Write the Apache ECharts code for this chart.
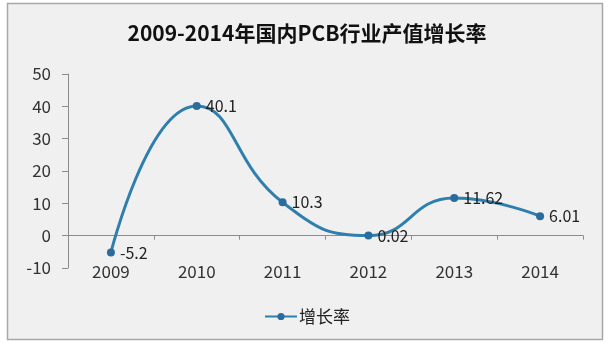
<!DOCTYPE html>
<html>
<head>
<meta charset="utf-8">
<script src="https://cdn.jsdelivr.net/npm/echarts@6/dist/echarts.min.js"></script>
<style>
html,body{margin:0;padding:0;background:#fff;}
#chart{width:614px;height:356px;}
</style>
</head>
<body>
<div id="chart"></div>
<script>
const titleText = '2009-2014年国内PCB行业产值增长率';
const seriesName = '增长率';
const categories = ['2009', '2010', '2011', '2012', '2013', '2014'];
const growthValues = [-5.2, 40.1, 10.3, 0.02, 11.62, 6.01];
const yTicks = { min: -10, max: 50, interval: 10 };

const FONT = '"Noto Sans CJK SC", "DejaVu Sans", sans-serif';
const chart = echarts.init(document.getElementById('chart'), null, { renderer: 'canvas' });
chart.setOption({
  backgroundColor: '#ffffff',
  animation: false,
  graphic: [{
    type: 'rect',
    z: -10,
    shape: { x: 7.5, y: 3.5, width: 595, height: 336 },
    style: { fill: '#f0f0f0', stroke: '#a8a8a8', lineWidth: 1.5 }
  }],
  title: {
    text: titleText,
    left: 'center',
    top: 18,
    textStyle: { fontFamily: FONT, fontSize: 21, fontWeight: 'bold', color: '#111' }
  },
  legend: {
    data: [seriesName],
    top: 303,
    left: 'center',
    itemWidth: 32,
    itemHeight: 9,
    itemGap: 4,
    textStyle: { fontFamily: FONT, fontSize: 17, color: '#222', padding: [0, 0, 0, -3] }
  },
  grid: { left: 68, right: 31, top: 74, bottom: 88, containLabel: false },
  xAxis: [{
    type: 'category',
    data: categories,
    position: 'top',
    boundaryGap: true,
    axisLine: { show: true, onZero: true, lineStyle: { color: '#8c8c8c', width: 1 } },
    axisTick: { show: true, inside: true, length: 4, lineStyle: { color: '#8c8c8c' } },
    axisLabel: { show: false },
    splitLine: { show: false }
  }, {
    type: 'category',
    data: categories,
    position: 'bottom',
    boundaryGap: true,
    axisLine: { show: false, onZero: false },
    axisTick: { show: false },
    axisLabel: { fontFamily: FONT, fontSize: 17, color: '#333', margin: -5 },
    splitLine: { show: false }
  }],
  yAxis: {
    type: 'value',
    min: yTicks.min,
    max: yTicks.max,
    interval: yTicks.interval,
    axisLine: { show: true, lineStyle: { color: '#8c8c8c', width: 1 } },
    axisTick: { show: true, length: 6, lineStyle: { color: '#8c8c8c' } },
    axisLabel: { fontFamily: FONT, fontSize: 17, color: '#333', margin: 17 },
    splitLine: { show: false }
  },
  series: [{
    name: seriesName,
    type: 'line',
    xAxisIndex: 0,
    data: growthValues,
    smooth: 0.5,
    symbol: 'circle',
    symbolSize: 8,
    lineStyle: { color: '#2f7fae', width: 3 },
    itemStyle: { color: '#2b6c9e' },
    label: {
      show: true,
      position: 'right',
      distance: 5,
      fontFamily: FONT,
      fontSize: 16,
      color: '#222'
    }
  }]
});
</script>
</body>
</html>
